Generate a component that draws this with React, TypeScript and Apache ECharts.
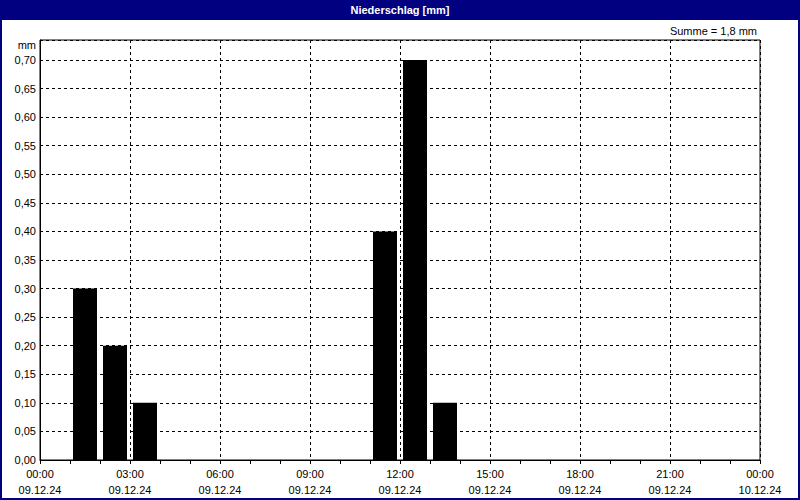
import React, { useEffect, useRef } from "react";
import * as echarts from "echarts";

const title = "Niederschlag [mm]";
const sumLabel = "Summe = 1,8 mm";
const unitLabel = "mm";
// hourly precipitation, hour 00..23 on 09.12.24
const hourlyPrecip = [0, 0.3, 0.2, 0.1, 0, 0, 0, 0, 0, 0, 0, 0.4, 0.7, 0.1, 0, 0, 0, 0, 0, 0, 0, 0, 0, 0];
const dayLabel = "09.12.24";
const nextDayLabel = "10.12.24";

export default function App() {
  const ref = useRef<HTMLDivElement>(null);
  useEffect(() => {
    if (!ref.current) return;
    const chart = echarts.init(ref.current, null, { renderer: "svg" });
    const font = "'Liberation Sans', Arial, sans-serif";
    const data = hourlyPrecip.map((v, h) => [h + 0.5, v]);
    chart.setOption({
      animation: false,
      backgroundColor: "#ffffff",
      textStyle: { fontFamily: font },
      grid: {
        left: 40,
        right: 40,
        top: 40,
        bottom: 40,
        show: true,
        borderColor: "#000",
        borderWidth: 1,
        backgroundColor: "transparent",
      },
      xAxis: {
        type: "value",
        min: 0,
        max: 24,
        interval: 3,
        axisLine: { show: true, lineStyle: { color: "#000", width: 1 } },
        axisTick: { show: true, inside: false, length: 4, lineStyle: { color: "#000" } },
        minorTick: { show: true, splitNumber: 3, length: 4, lineStyle: { color: "#000" } },
        splitLine: { show: true, lineStyle: { color: "#000", type: [3, 3], width: 1 } },
        axisLabel: {
          color: "#000",
          fontSize: 11,
          fontFamily: font,
          margin: 6,
          lineHeight: 16,
          formatter: (v: number) => {
            const h = Math.round(v) % 24;
            const d = v >= 24 ? nextDayLabel : dayLabel;
            return `${String(h).padStart(2, "0")}:00\n${d}`;
          },
        },
      },
      yAxis: {
        type: "value",
        min: 0,
        max: 0.735,
        interval: 0.05,
        axisLine: { show: true, lineStyle: { color: "#000", width: 1 } },
        axisTick: { show: false },
        splitLine: { show: true, lineStyle: { color: "#000", type: [3, 3], width: 1 } },
        axisLabel: {
          color: "#000",
          fontSize: 11,
          fontFamily: font,
          margin: 4,
          formatter: (v: number) => (v > 0.71 ? "" : v.toFixed(2).replace(".", ",")),
        },
      },
      series: [
        {
          type: "bar",
          data,
          barWidth: 24,
          itemStyle: { color: "#000" },
          silent: true,
        },
      ],
      graphic: [
        { type: "rect", shape: { x: 0, y: 0, width: 800, height: 20 }, style: { fill: "#000080" } },
        {
          type: "text",
          x: 400,
          y: 10,
          style: {
            text: title,
            fill: "#fff",
            font: `bold 11px ${font}`,
            textAlign: "center",
            textVerticalAlign: "middle",
          },
        },
        {
          type: "rect",
          shape: { x: 1, y: 1, width: 798, height: 498 },
          style: { fill: "none", stroke: "#000080", lineWidth: 2 },
        },
        {
          type: "text",
          x: 757,
          y: 31,
          style: {
            text: sumLabel,
            fill: "#000",
            font: `11px ${font}`,
            textAlign: "right",
            textVerticalAlign: "middle",
          },
        },
        {
          type: "text",
          x: 36,
          y: 45,
          style: {
            text: unitLabel,
            fill: "#000",
            font: `11px ${font}`,
            textAlign: "right",
            textVerticalAlign: "middle",
          },
        },
      ],
    });
    return () => chart.dispose();
  }, []);
  return (
    <div
      ref={ref}
      style={{ position: "fixed", left: 0, top: 0, width: 800, height: 500 }}
    />
  );
}
